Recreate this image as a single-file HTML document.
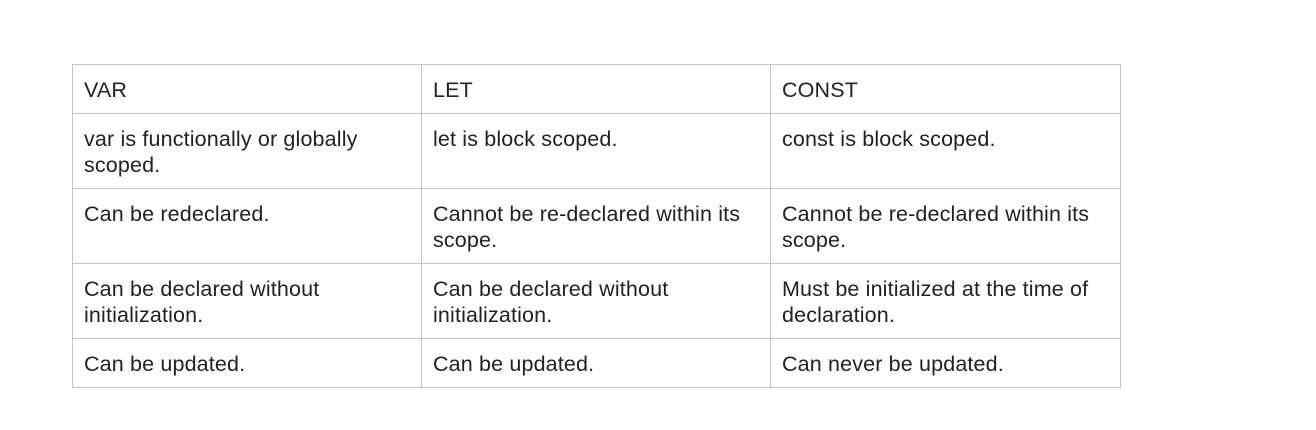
<!DOCTYPE html>
<html><head><style>
body{margin:0;width:1316px;height:430px;background:#fff;position:relative;overflow:hidden;font-family:"Liberation Sans",sans-serif;}
.c{position:absolute;box-sizing:border-box;border:1px solid #c4c4c4;padding:12px 11px;font-size:21.5px;letter-spacing:0.15px;line-height:26px;color:#222;white-space:nowrap;}
</style></head><body>
<div class="c" style="left:72px;top:64px;width:350px;height:50px">VAR</div>
<div class="c" style="left:421px;top:64px;width:350px;height:50px">LET</div>
<div class="c" style="left:770px;top:64px;width:351px;height:50px">CONST</div>

<div class="c" style="left:72px;top:113px;width:350px;height:76px">var is functionally or globally<br>scoped.</div>
<div class="c" style="left:421px;top:113px;width:350px;height:76px">let is block scoped.</div>
<div class="c" style="left:770px;top:113px;width:351px;height:76px">const is block scoped.</div>

<div class="c" style="left:72px;top:188px;width:350px;height:76px">Can be redeclared.</div>
<div class="c" style="left:421px;top:188px;width:350px;height:76px">Cannot be re-declared within its<br>scope.</div>
<div class="c" style="left:770px;top:188px;width:351px;height:76px">Cannot be re-declared within its<br>scope.</div>

<div class="c" style="left:72px;top:263px;width:350px;height:76px">Can be declared without<br>initialization.</div>
<div class="c" style="left:421px;top:263px;width:350px;height:76px">Can be declared without<br>initialization.</div>
<div class="c" style="left:770px;top:263px;width:351px;height:76px">Must be initialized at the time of<br>declaration.</div>

<div class="c" style="left:72px;top:338px;width:350px;height:50px">Can be updated.</div>
<div class="c" style="left:421px;top:338px;width:350px;height:50px">Can be updated.</div>
<div class="c" style="left:770px;top:338px;width:351px;height:50px">Can never be updated.</div>
</body></html>
